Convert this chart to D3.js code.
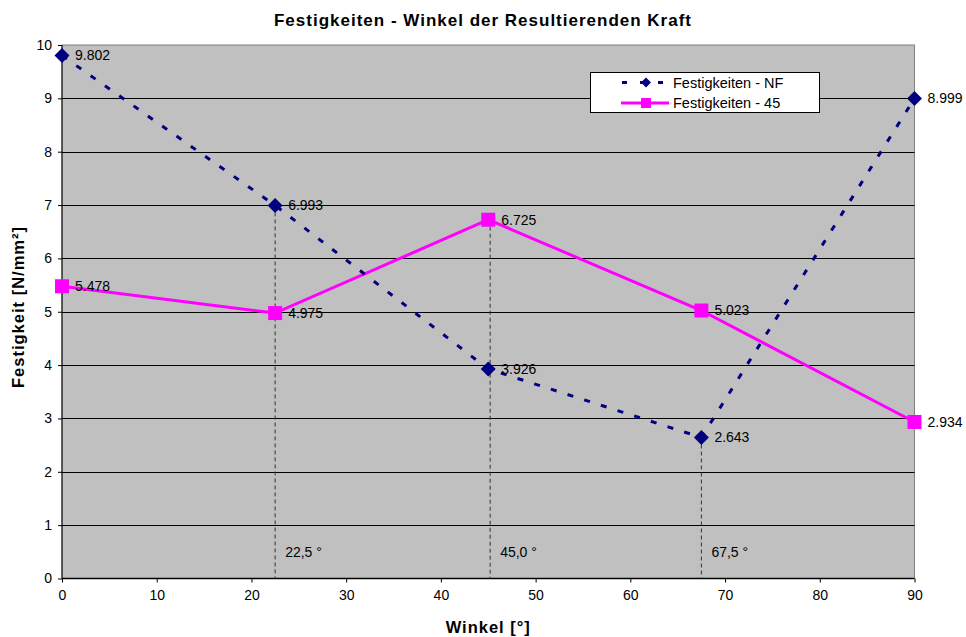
<!DOCTYPE html>
<html><head><meta charset="utf-8">
<script src="https://cdn.jsdelivr.net/npm/d3@7"></script>
<style>body{margin:0;background:#fff}svg{display:block;font-family:"Liberation Sans",Arial,sans-serif}</style>
</head><body><svg id="c" width="966" height="637"></svg>
<script>
const angles = [0, 22.5, 45, 67.5, 90];
const nfValues = [9.802, 6.993, 3.926, 2.643, 8.999];
const v45Values = [5.478, 4.975, 6.725, 5.023, 2.934];
const nfLabels = ["9.802", "6.993", "3.926", "2.643", "8.999"];
const v45Labels = ["5.478", "4.975", "6.725", "5.023", "2.934"];
const xTicks = [0, 10, 20, 30, 40, 50, 60, 70, 80, 90];
const yTicks = [0, 1, 2, 3, 4, 5, 6, 7, 8, 9, 10];
const guideX = [22.5, 45.2, 67.5];
const guideTop = [6.993, 6.725, 2.643];
const guideLabels = ["22,5 °", "45,0 °", "67,5 °"];
const seriesNames = ["Festigkeiten - NF", "Festigkeiten - 45"];
const title = "Festigkeiten - Winkel der Resultierenden Kraft";
const xTitle = "Winkel [°]";
const yTitle = "Festigkeit [N/mm²]";

const svg = d3.select("#c");
const L = 62, R = 914.5, T = 45, B = 578.5;
const x = d3.scaleLinear().domain([0, 90]).range([L, R]);
const y = d3.scaleLinear().domain([0, 10]).range([B, T]);

svg.append("rect").attr("x", L).attr("y", T).attr("width", R - L).attr("height", B - T)
  .attr("fill", "#C0C0C0").attr("stroke", "#808080").attr("stroke-width", 1);

// gridlines
svg.append("g").selectAll("line").data(yTicks.filter(d => d > 0 && d < 10)).join("line")
  .attr("x1", L).attr("x2", R).attr("y1", d => Math.round(y(d)) + 0.5).attr("y2", d => Math.round(y(d)) + 0.5)
  .attr("stroke", "#000").attr("stroke-width", 1);

// axes
const yAxis = svg.append("g").attr("transform", `translate(${L},0)`)
  .call(d3.axisLeft(y).tickValues(yTicks).tickSize(4).tickPadding(6).tickFormat(d3.format("d")));
const xAxis = svg.append("g").attr("transform", `translate(0,${B})`)
  .call(d3.axisBottom(x).tickValues(xTicks).tickSize(4).tickPadding(8).tickFormat(d3.format("d")));
[yAxis, xAxis].forEach(a => {
  a.select(".domain").remove();
  a.selectAll("line").attr("stroke", "#000");
  a.selectAll("text").attr("font-size", 14).attr("fill", "#000").attr("font-family", "Liberation Sans, Arial, sans-serif");
});
svg.append("line").attr("x1", L).attr("x2", L).attr("y1", T).attr("y2", B).attr("stroke", "#000");
svg.append("line").attr("x1", L).attr("x2", R).attr("y1", B).attr("y2", B).attr("stroke", "#000").attr("stroke-width", 1.5);

// guide lines
svg.append("g").selectAll("line").data(guideX).join("line")
  .attr("x1", d => x(d)).attr("x2", d => x(d))
  .attr("y1", (d, i) => y(guideTop[i])).attr("y2", B)
  .attr("stroke", "#333").attr("stroke-width", 1).attr("stroke-dasharray", "4,3");
svg.append("g").selectAll("text").data(guideX).join("text")
  .attr("x", d => x(d) + 10).attr("y", y(0.5)).attr("dy", "0.35em")
  .attr("font-size", 14).text((d, i) => guideLabels[i]);

const nfData = angles.map((a, i) => [a, nfValues[i]]);
const d45Data = angles.map((a, i) => [a, v45Values[i]]);
const lineGen = d3.line().x(d => x(d[0])).y(d => y(d[1]));

// 45 line
svg.append("path").datum(d45Data).attr("d", lineGen)
  .attr("fill", "none").attr("stroke", "#FF00FF").attr("stroke-width", 3);
// NF dashed line
svg.append("path").datum(nfData).attr("d", lineGen)
  .attr("fill", "none").attr("stroke", "#000080").attr("stroke-width", 3).attr("stroke-dasharray", "6,11.5");

const diamond = d3.symbol().type(d3.symbolSquare).size(112);
svg.append("g").selectAll("path").data(nfData).join("path")
  .attr("d", diamond).attr("transform", d => `translate(${x(d[0])},${y(d[1])}) rotate(45)`)
  .attr("fill", "#000080");
svg.append("g").selectAll("rect").data(d45Data).join("rect")
  .attr("x", d => x(d[0]) - 7).attr("y", d => y(d[1]) - 7).attr("width", 14).attr("height", 14)
  .attr("fill", "#FF00FF");

// data labels
svg.append("g").selectAll("text").data(nfData).join("text")
  .attr("x", d => x(d[0]) + 13).attr("y", d => y(d[1])).attr("dy", "0.35em")
  .attr("font-size", 14).text((d, i) => nfLabels[i]);
svg.append("g").selectAll("text").data(d45Data).join("text")
  .attr("x", d => x(d[0]) + 13).attr("y", d => y(d[1])).attr("dy", "0.35em")
  .attr("font-size", 14).text((d, i) => v45Labels[i]);

// legend
const lg = svg.append("g");
lg.append("rect").attr("x", 590.5).attr("y", 72.5).attr("width", 229).attr("height", 40)
  .attr("fill", "#fff").attr("stroke", "#000");
lg.append("line").attr("x1", 622).attr("x2", 669).attr("y1", 82.5).attr("y2", 82.5)
  .attr("stroke", "#000080").attr("stroke-width", 3).attr("stroke-dasharray", "5,13");
lg.append("path").attr("d", d3.symbol().type(d3.symbolSquare).size(50))
  .attr("transform", "translate(646,82.5) rotate(45)").attr("fill", "#000080");
lg.append("line").attr("x1", 621).attr("x2", 669).attr("y1", 103).attr("y2", 103)
  .attr("stroke", "#FF00FF").attr("stroke-width", 3);
lg.append("rect").attr("x", 641).attr("y", 98).attr("width", 10).attr("height", 10).attr("fill", "#FF00FF");
lg.selectAll("text.lt").data(seriesNames).join("text").attr("class", "lt")
  .attr("x", 673).attr("y", (d, i) => i === 0 ? 82.5 : 103).attr("dy", "0.35em")
  .attr("font-size", 14.5).text(d => d);

// titles
svg.append("text").attr("x", 483).attr("y", 20).attr("dy", "0.35em").attr("text-anchor", "middle")
  .attr("font-size", 17).attr("font-weight", "bold").attr("letter-spacing", 1).text(title);
svg.append("text").attr("x", (L + R) / 2).attr("y", 627).attr("dy", "0.35em").attr("text-anchor", "middle")
  .attr("font-size", 16.5).attr("font-weight", "bold").attr("letter-spacing", 1).text(xTitle);
svg.append("text").attr("transform", "translate(18,307) rotate(-90)").attr("dy", "0.35em")
  .attr("text-anchor", "middle").attr("font-size", 16.5).attr("font-weight", "bold").attr("letter-spacing", 1).text(yTitle);
</script></body></html>
